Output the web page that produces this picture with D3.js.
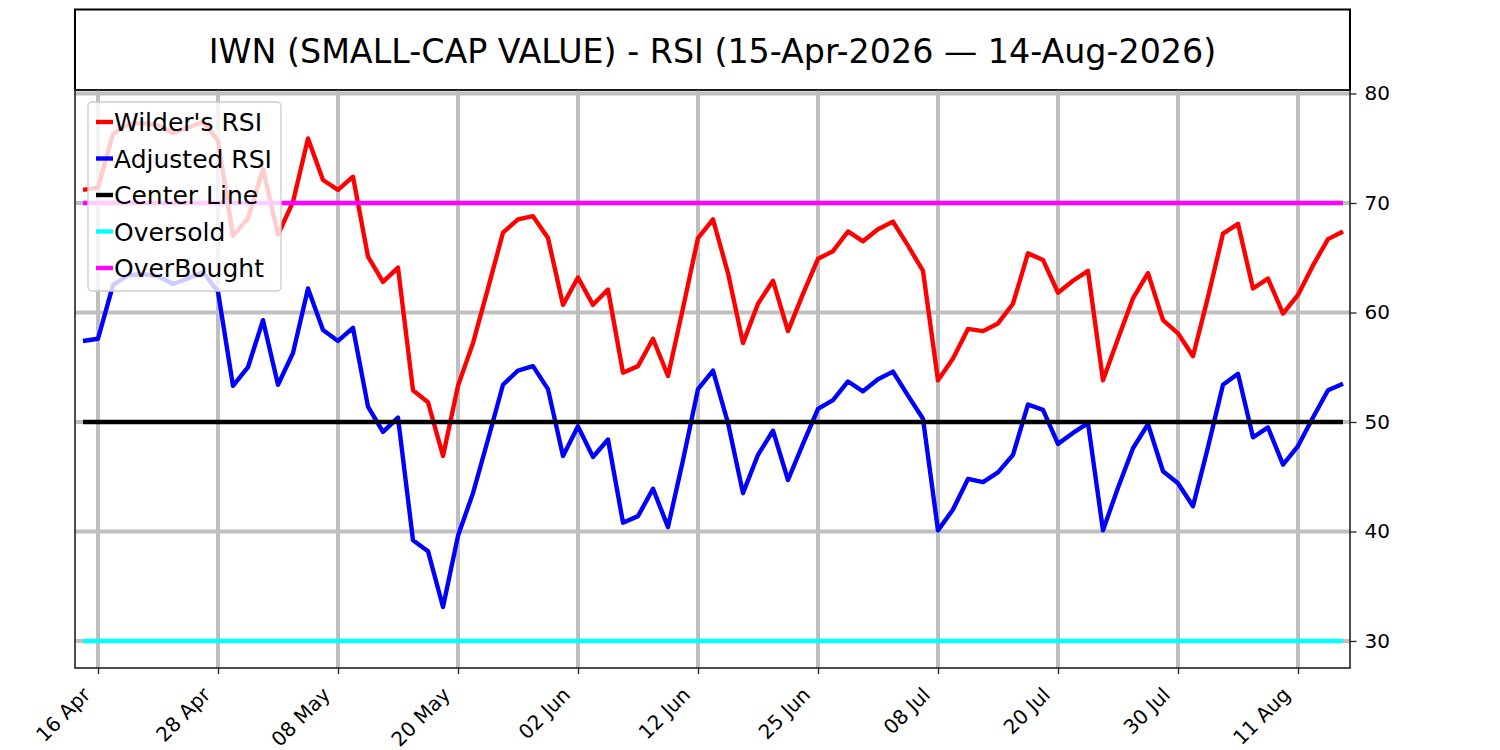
<!DOCTYPE html>
<html>
<head>
<meta charset="utf-8">
<script src="https://cdn.jsdelivr.net/npm/d3@7"></script>
<style>
  html, body { margin: 0; padding: 0; background: #fff; }
  svg { display: block; }
  text { font-family: "DejaVu Sans", sans-serif; }
</style>
</head>
<body>
<svg id="chart" width="1500" height="750"></svg>
<script>
// ---------- data ----------
const chartTitle = "IWN (SMALL-CAP VALUE) - RSI (15-Apr-2026 \u2014 14-Aug-2026)";

// trading-day index of each labelled tick, and its label
const tickIndex  = [1, 9, 17, 25, 33, 41, 49, 57, 65, 73, 81];
const tickLabels = ["16 Apr", "28 Apr", "08 May", "20 May", "02 Jun", "12 Jun",
                    "25 Jun", "08 Jul", "20 Jul", "30 Jul", "11 Aug"];

const yTicks = [30, 40, 50, 60, 70, 80];

// Wilder's RSI (one value per trading day, 15 Apr .. 14 Aug)
const wildersRSI = [
  71.2, 71.4, 76.3, 77.2, 77.3, 77.1, 76.4, 76.9, 77.4, 75.7,
  67.0, 68.6, 73.1, 67.1, 70.1, 75.9, 72.1, 71.2, 72.4, 65.1,
  62.8, 64.1, 52.9, 51.8, 46.9, 53.3, 57.2, 62.2, 67.3, 68.5,
  68.8, 66.8, 60.7, 63.2, 60.7, 62.1, 54.5, 55.1, 57.6, 54.2,
  60.4, 66.8, 68.5, 63.6, 57.2, 60.8, 62.9, 58.3, 61.7, 64.9,
  65.6, 67.4, 66.5, 67.6, 68.3, 66.1, 63.8, 53.8, 55.8, 58.5,
  58.3, 59.0, 60.8, 65.4, 64.8, 61.8, 62.9, 63.8, 53.8, 57.6,
  61.3, 63.6, 59.3, 58.1, 56.0, 61.4, 67.2, 68.1, 62.2, 63.1,
  59.9, 61.6, 64.3, 66.7, 67.4
];

// Adjusted RSI
const adjustedRSI = [
  57.4, 57.6, 62.5, 63.4, 63.5, 63.3, 62.6, 63.1, 63.7, 61.9,
  53.3, 55.0, 59.3, 53.4, 56.3, 62.2, 58.4, 57.4, 58.6, 51.4,
  49.1, 50.4, 39.2, 38.2, 33.1, 39.6, 43.5, 48.4, 53.4, 54.7,
  55.1, 53.0, 46.9, 49.6, 46.8, 48.4, 40.8, 41.4, 43.9, 40.4,
  46.5, 53.0, 54.7, 49.9, 43.5, 47.0, 49.2, 44.7, 48.0, 51.2,
  52.0, 53.7, 52.8, 53.9, 54.6, 52.4, 50.3, 40.1, 42.0, 44.8,
  44.5, 45.4, 47.0, 51.6, 51.1, 48.0, 49.0, 49.9, 40.1, 44.0,
  47.6, 49.8, 45.5, 44.4, 42.3, 47.7, 53.4, 54.4, 48.6, 49.5,
  46.1, 47.8, 50.4, 52.9, 53.5
];

const centerLevel = 50;
const oversoldLevel = 30;
const overboughtLevel = 70;

const seriesNames  = ["Wilder's RSI", "Adjusted RSI", "Center Line", "Oversold", "OverBought"];
const seriesColors = ["#ff0000", "#0000ff", "#000000", "#00ffff", "#ff00ff"];

// ---------- layout ----------
const svg = d3.select("#chart");
const plot = { left: 75, right: 1350, top: 90, bottom: 668 };
const n = wildersRSI.length;

const x = d3.scaleLinear().domain([-0.533, n - 1 + 0.467]).range([plot.left, plot.right]);
const y = d3.scaleLinear().domain([27.53, 80.32]).range([plot.bottom, plot.top]);

const gridColor = "#bfbfbf";
const spineColor = "#222";
const tickFont = "20px";

// title box
svg.append("rect")
  .attr("x", plot.left).attr("y", 9.5)
  .attr("width", plot.right - plot.left).attr("height", plot.top - 9.5)
  .attr("fill", "#fff").attr("stroke", "#000").attr("stroke-width", 2);
svg.append("text")
  .attr("x", (plot.left + plot.right) / 2).attr("y", 63)
  .attr("text-anchor", "middle")
  .attr("font-size", "33.3px")
  .attr("fill", "#000")
  .text(chartTitle);

const g = svg.append("g");

// clip
svg.append("defs").append("clipPath").attr("id", "clip")
  .append("rect").attr("x", plot.left).attr("y", plot.top)
  .attr("width", plot.right - plot.left).attr("height", plot.bottom - plot.top);

const inner = g.append("g").attr("clip-path", "url(#clip)");

// grid
inner.selectAll(".vgrid").data(tickIndex).enter().append("line")
  .attr("x1", d => x(d)).attr("x2", d => x(d))
  .attr("y1", plot.top).attr("y2", plot.bottom)
  .attr("stroke", gridColor).attr("stroke-width", 4);
inner.selectAll(".hgrid").data(yTicks).enter().append("line")
  .attr("x1", plot.left).attr("x2", plot.right)
  .attr("y1", d => y(d)).attr("y2", d => y(d))
  .attr("stroke", gridColor).attr("stroke-width", 4);

// series
const idx = d3.range(n);
const line = d3.line().x(d => x(d[0])).y(d => y(d[1]));
const seriesData = [
  idx.map(i => [i, wildersRSI[i]]),
  idx.map(i => [i, adjustedRSI[i]]),
  idx.map(i => [i, centerLevel]),
  idx.map(i => [i, oversoldLevel]),
  idx.map(i => [i, overboughtLevel])
];
seriesData.forEach((s, k) => {
  inner.append("path").datum(s)
    .attr("d", line)
    .attr("fill", "none")
    .attr("stroke", seriesColors[k])
    .attr("stroke-width", 4.4)
    .attr("stroke-linejoin", "round")
    .attr("stroke-linecap", "butt");
});

// frame
g.append("rect")
  .attr("x", plot.left).attr("y", plot.top)
  .attr("width", plot.right - plot.left).attr("height", plot.bottom - plot.top)
  .attr("fill", "none").attr("stroke", spineColor).attr("stroke-width", 1.6);

// right axis
const yAxis = d3.axisRight(y).tickValues(yTicks).tickSize(6.5).tickPadding(8).tickFormat(d3.format("d"));
const ya = g.append("g").attr("transform", `translate(${plot.right},0)`).call(yAxis);
ya.select(".domain").remove();
ya.selectAll(".tick line").attr("stroke", spineColor).attr("stroke-width", 1.3);
ya.selectAll(".tick text").attr("font-size", tickFont).attr("fill", "#000")
  .attr("font-family", "DejaVu Sans");

// bottom axis
const xAxis = d3.axisBottom(x).tickValues(tickIndex).tickSize(6).tickFormat((d, i) => tickLabels[i]);
const xa = g.append("g").attr("transform", `translate(0,${plot.bottom})`).call(xAxis);
xa.select(".domain").remove();
xa.selectAll(".tick line").attr("stroke", spineColor).attr("stroke-width", 1.3);
xa.selectAll(".tick text")
  .attr("font-size", tickFont).attr("fill", "#000")
  .attr("font-family", "DejaVu Sans")
  .attr("text-anchor", "end")
  .attr("dy", null)
  .attr("y", 0)
  .attr("transform", "translate(-7,28) rotate(-45)");

// legend
const lg = svg.append("g");
lg.append("rect")
  .attr("x", 88).attr("y", 102).attr("width", 193).attr("height", 189)
  .attr("rx", 4).attr("ry", 4)
  .attr("fill", "#fff").attr("fill-opacity", 0.8)
  .attr("stroke", "#cccccc").attr("stroke-width", 1.3);
seriesNames.forEach((name, k) => {
  const cy = 122 + k * 36.5;
  lg.append("line")
    .attr("x1", 96).attr("x2", 113).attr("y1", cy).attr("y2", cy)
    .attr("stroke", seriesColors[k]).attr("stroke-width", 4.4);
  lg.append("text")
    .attr("x", 114).attr("y", cy + 9)
    .attr("font-size", "25px").attr("fill", "#000")
    .text(name);
});
</script>
</body>
</html>
